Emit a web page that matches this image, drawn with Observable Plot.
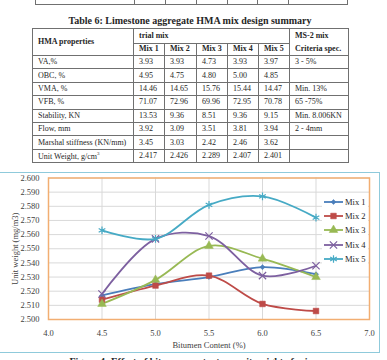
<!DOCTYPE html>
<html>
<head>
<meta charset="utf-8">
<script src="https://cdn.jsdelivr.net/npm/d3@7"></script>
<script src="https://cdn.jsdelivr.net/npm/@observablehq/plot@0.6"></script>
<style>
  html, body { margin: 0; padding: 0; background: #fff; }
  #page { position: relative; width: 387px; height: 360px; overflow: hidden; font-family: "Liberation Serif", "Times New Roman", serif; color: #262626; }
  table { border-collapse: collapse; table-layout: fixed; position: absolute; font-size: 8px; }
  td { border: 1px solid #707070; padding: 0 0 0 5px; white-space: nowrap; line-height: 1; vertical-align: middle; overflow: hidden; }
  #prev { left: 35px; top: -10px; width: 313px; }
  #prev td { height: 13px; }
  #title { position: absolute; left: 0; width: 380px; top: 15px; text-align: center; font-weight: bold; font-size: 10px; line-height: 12px; }
  #tbl { left: 32px; top: 28px; width: 317px; }
  #tbl .h { font-weight: bold; }
  #tbl tr.r td { height: 12.4px; }
  #chartBox { position: absolute; left: -2px; top: 172px; width: 382px; height: 181px; border: 1.5px solid #8fcadb; box-sizing: border-box; }
  #plot { position: absolute; left: 0; top: 172px; }
  #legend { position: absolute; left: 322px; top: 195px; width: 46px; background: #fff; font-size: 8.5px; }
  #legend .row { height: 14.2px; display: flex; align-items: center; }
  #legend svg { display: block; }
  #caption { position: absolute; left: 0; width: 382px; top: 356px; text-align: center; font-weight: bold; font-size: 10px; line-height: 12px; }
</style>
</head>
<body>
<div id="page">
  <table id="prev"><colgroup><col style="width:99px"><col style="width:31px"><col style="width:31px"><col style="width:31px"><col style="width:30px"><col style="width:31px"><col style="width:59px"></colgroup><tr id="prevRow"></tr></table>
  <div id="title">Table 6: Limestone aggregate HMA mix design summary</div>
  <table id="tbl"><colgroup><col style="width:101px"><col style="width:31px"><col style="width:32px"><col style="width:31px"><col style="width:31px"><col style="width:31px"><col style="width:59px"></colgroup><tbody id="tbody"></tbody></table>
  <div id="chartBox"></div>
  <div id="plot"></div>
  <div id="legend"></div>
  <div id="caption">Figure 4: Effect of bitumen content on unit weight of mix</div>
</div>
<script>
// ---- Table 6 contents ----
const hmaProperties = ["VA,%", "OBC, %", "VMA, %", "VFB, %", "Stability, KN", "Flow, mm", "Marshal stiffness (KN/mm)", "Unit Weight, g/cm<sup style=\"font-size:5px\">3</sup>"];
const trialMixNames = ["Mix 1", "Mix 2", "Mix 3", "Mix 4", "Mix 5"];
const trialMixValues = [
  ["3.93", "3.93", "4.73", "3.93", "3.97"],
  ["4.95", "4.75", "4.80", "5.00", "4.85"],
  ["14.46", "14.65", "15.76", "15.44", "14.47"],
  ["71.07", "72.96", "69.96", "72.95", "70.78"],
  ["13.53", "9.36", "8.51", "9.36", "9.15"],
  ["3.92", "3.09", "3.51", "3.81", "3.94"],
  ["3.45", "3.03", "2.42", "2.46", "3.62"],
  ["2.417", "2.426", "2.289", "2.407", "2.401"]
];
const criteriaSpec = ["3 - 5%", "", "Min. 13%", "65 -75%", "Min. 8.006KN", "2 - 4mm", "", ""];

// ---- Unit weight vs bitumen content ----
const bitumenContent = [4.5, 5.0, 5.5, 6.0, 6.5];
const mix1 = [2.517, 2.525, 2.530, 2.537, 2.532];
const mix2 = [2.514, 2.524, 2.531, 2.511, 2.506];
const mix3 = [2.511, 2.528, 2.552, 2.543, 2.530];
const mix4 = [2.518, 2.557, 2.559, 2.531, 2.538];
const mix5 = [2.563, 2.557, 2.581, 2.587, 2.572];
const xTicks = [4.0, 4.5, 5.0, 5.5, 6.0, 6.5, 7.0];
const yTicks = [2.50, 2.51, 2.52, 2.53, 2.54, 2.55, 2.56, 2.57, 2.58, 2.59, 2.60];

const series = [
  {name: "Mix 1", values: mix1, color: "#4a7ebb", symbol: "diamond2", r: 2.3, filled: true},
  {name: "Mix 2", values: mix2, color: "#be4b48", symbol: "square", r: 3.2, filled: true},
  {name: "Mix 3", values: mix3, color: "#98b954", symbol: "triangle", r: 3.2, filled: true},
  {name: "Mix 4", values: mix4, color: "#7d60a0", symbol: "times", r: 3.4, filled: false},
  {name: "Mix 5", values: mix5, color: "#46aac5", symbol: "asterisk", r: 3.6, filled: false}
];

// bottom edge of the preceding table (its last row runs off the top of the page)
document.getElementById("prevRow").innerHTML = Array.from({length: 7}, () => "<td></td>").join("");

// Table 6
const tbody = document.getElementById("tbody");
tbody.innerHTML =
  `<tr style="height:14px"><td class="h" rowspan="2">HMA properties</td><td class="h" colspan="5">trial mix</td>` +
  `<td class="h" rowspan="2" style="line-height:13px">MS-2 mix<br>Criteria spec.</td></tr>` +
  `<tr style="height:12px">${trialMixNames.map(n => `<td class="h">${n}</td>`).join("")}</tr>` +
  hmaProperties.map((p, i) =>
    `<tr class="r"><td>${p}</td>${trialMixValues[i].map(v => `<td>${v}</td>`).join("")}<td>${criteriaSpec[i]}</td></tr>`
  ).join("");

// long-format rows for the chart
const rows = series.flatMap(s => bitumenContent.map((b, i) => ({mix: s.name, bitumen: b, weight: s.values[i]})));

const chart = Plot.plot({
  width: 381,
  height: 182,
  marginLeft: 48,
  marginRight: 12,
  marginTop: 5.5,
  marginBottom: 35,
  style: {fontFamily: "'Liberation Serif', 'Times New Roman', serif", fontSize: "8.5px", color: "#404040", background: "transparent", overflow: "visible"},
  x: {domain: [4, 7], ticks: xTicks, tickFormat: d3.format(".1f"), tickSize: 0, tickPadding: 10, label: "Bitumen Content (%)", labelAnchor: "center", labelOffset: 28, labelArrow: "none"},
  y: {domain: [2.5, 2.6], ticks: yTicks, tickFormat: d3.format(".3f"), tickSize: 0, tickPadding: 9, label: "Unit weight (mg/m3)", labelAnchor: "center", labelOffset: 37, labelArrow: "none"},
  marks: [
    Plot.gridX(xTicks, {stroke: "#d9d9d9", strokeOpacity: 1, strokeWidth: 1}),
    Plot.gridY(yTicks, {stroke: "#d9d9d9", strokeOpacity: 1, strokeWidth: 1}),
    Plot.frame({stroke: "#f2ae72", strokeWidth: 1.5}),
    ...series.map(s => Plot.line(rows, {filter: d => d.mix === s.name, x: "bitumen", y: "weight", stroke: s.color, strokeWidth: 1.8, curve: "catmull-rom"})),
    ...series.map(s => Plot.dot(rows, {
      filter: d => d.mix === s.name, x: "bitumen", y: "weight", symbol: s.symbol, r: s.r,
      fill: s.filled ? s.color : "none", stroke: s.color, strokeWidth: s.filled ? 0.5 : 1.2
    }))
  ]
});
document.getElementById("plot").appendChild(chart);

// legend drawn alongside the plot
const legend = d3.select("#legend");
const symbolTypes = {diamond2: d3.symbolDiamond2, square: d3.symbolSquare, triangle: d3.symbolTriangle, times: d3.symbolTimes, asterisk: d3.symbolAsterisk};
series.forEach(s => {
  const row = legend.append("div").attr("class", "row");
  const svg = row.append("svg").attr("width", 23).attr("height", 10);
  svg.append("line").attr("x1", 2).attr("x2", 21).attr("y1", 5).attr("y2", 5).attr("stroke", s.color).attr("stroke-width", 1.8);
  svg.append("path")
    .attr("transform", "translate(11.5,5)")
    .attr("d", d3.symbol(symbolTypes[s.symbol], Math.PI * s.r * s.r)())
    .attr("fill", s.filled ? s.color : "none")
    .attr("stroke", s.color)
    .attr("stroke-width", s.filled ? 0.5 : 1.2);
  row.append("span").text(s.name);
});
</script>
</body>
</html>
